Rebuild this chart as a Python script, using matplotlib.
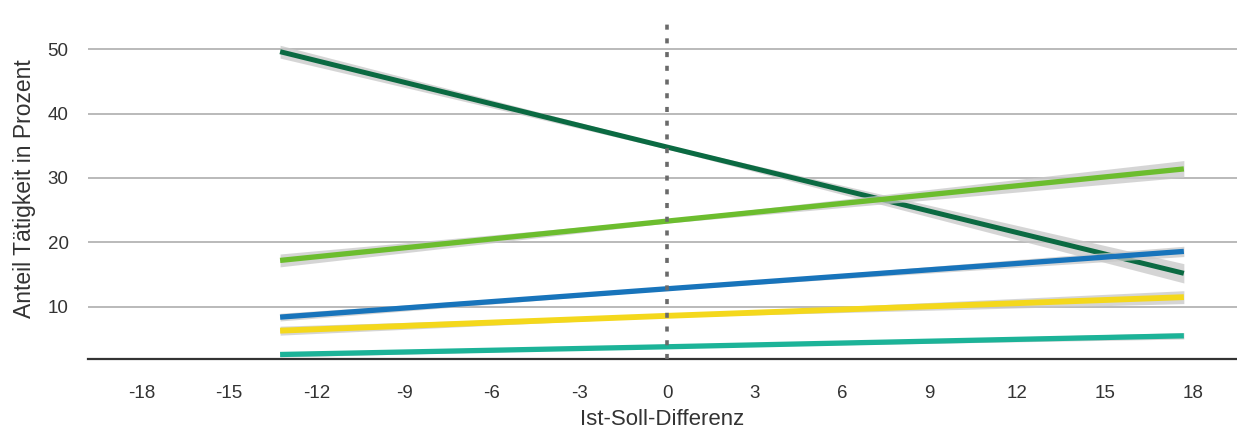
import numpy as np
import matplotlib.pyplot as plt

plt.rcParams['font.family'] = ['Liberation Sans', 'DejaVu Sans']
plt.rcParams['axes.unicode_minus'] = False

# x positions of the fitted lines (start, centre, end)
x_fit = [-13.25, 0, 17.7]

# fitted values per group
y_darkgreen = [49.6, 34.8, 15.2]
y_lightgreen = [17.2, 23.3, 31.4]
y_blue = [8.4, 12.8, 18.6]
y_yellow = [6.3, 8.6, 11.5]
y_teal = [2.6, 3.8, 5.5]

# half width of the grey confidence band (start, centre, end)
ci_darkgreen = [1.0, 0.3, 1.5]
ci_lightgreen = [1.0, 0.3, 1.3]
ci_blue = [0.6, 0.2, 0.8]
ci_yellow = [0.7, 0.2, 1.0]
ci_teal = [0.4, 0.15, 0.5]

x_ticks = [-18, -15, -12, -9, -6, -3, 0, 3, 6, 9, 12, 15, 18]
y_ticks = [10, 20, 30, 40, 50]

series = [
    (y_darkgreen, ci_darkgreen, '#0b6a42', 3.6),
    (y_lightgreen, ci_lightgreen, '#6cbd2e', 3.8),
    (y_blue, ci_blue, '#1874bb', 3.8),
    (y_yellow, ci_yellow, '#f4d81c', 4.2),
    (y_teal, ci_teal, '#1cb398', 3.8),
]

fig = plt.figure(figsize=(12.37, 4.33), dpi=100)
ax = fig.add_axes([0.0711, 0.170, 0.9289, 0.791])

ax.set_xlim(-19.83, 19.52)
ax.set_ylim(1.84, 55.0)

for i, (y, ci, color, lw) in enumerate(series):
    y = np.array(y)
    ci = np.array(ci)
    ax.fill_between(x_fit, y - ci, y + ci, color='#c8c8c8', alpha=0.75,
                    linewidth=0, zorder=3 + i * 2)
    ax.plot(x_fit, y, color=color, lw=lw, solid_capstyle='butt',
            zorder=4 + i * 2)

ax.axvline(0, color='#6a6a6a', lw=2.6, linestyle=(0, (1.4, 2.4)), zorder=20)

ax.set_xticks(x_ticks)
ax.set_yticks(y_ticks)
ax.grid(axis='y', color='#b4b4b4', lw=1.3)
ax.set_axisbelow(True)

for s in ['top', 'right', 'left']:
    ax.spines[s].set_visible(False)
ax.spines['bottom'].set_color('#333333')
ax.spines['bottom'].set_linewidth(1.6)

ax.tick_params(axis='both', length=0, labelsize=13.5, labelcolor='#333333')
ax.tick_params(axis='x', pad=18.5)
ax.tick_params(axis='y', pad=14)

ax.set_xlabel('Ist-Soll-Differenz', fontsize=16, color='#333333', labelpad=5)
ax.set_ylabel('Anteil Tätigkeit in Prozent', fontsize=16.5, color='#333333',
              labelpad=8)

fig.savefig('out.png', dpi=100)
